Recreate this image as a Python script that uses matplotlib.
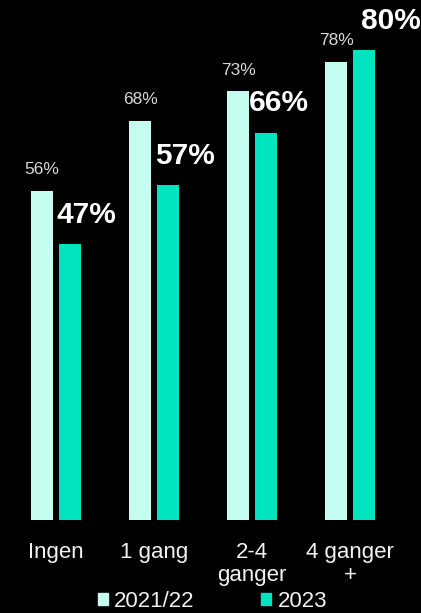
import matplotlib
matplotlib.use("Agg")
import matplotlib.pyplot as plt
from matplotlib.patches import Patch
import numpy as np

plt.rcParams["font.family"] = ["Liberation Sans", "DejaVu Sans"]

categories = ["Ingen", "1 gang", "2-4\nganger", "4 ganger\n+"]
series_names = ["2021/22", "2023"]
values_2021 = [56, 68, 73, 78]
values_2023 = [47, 57, 66, 80]

color_2021 = "#C6FDF1"
color_2023 = "#00E5C0"

fig = plt.figure(figsize=(4.21, 6.13), dpi=100, facecolor="black")
ax = fig.add_axes([7 / 421, 93 / 613, 392 / 421, 520 / 613])
ax.set_facecolor("black")

x = np.arange(len(categories))
w = 22 / 98
off = 14 / 98
ax.bar(x - off, values_2021, width=w, color=color_2021)
ax.bar(x + off, values_2023, width=w, color=color_2023)

ax.set_xlim(-0.5, 3.5)
ax.set_ylim(0, 520 / 5.87)

# small labels for 2021/22, bold labels for 2023
for xi, v in zip(x, values_2021):
    ax.annotate(f"{v}%", (xi - off, v), xytext=(0, 10), textcoords="offset points",
                ha="center", va="bottom", fontsize=12.5, color="#D9D9D9")

shift = [12, 12, 9, 19]
for xi, v, s in zip(x, values_2023, shift):
    ax.annotate(f"{v}%", (xi + off, v), xytext=(s, 11), textcoords="offset points",
                ha="center", va="bottom", fontsize=21.5, fontweight="bold", color="white")

ax.set_xticks(x)
ax.set_xticklabels(categories, fontsize=16, color="#F2F2F2", linespacing=1.1)
ax.tick_params(axis="x", length=0, pad=16)
ax.set_yticks([])
for sp in ax.spines.values():
    sp.set_visible(False)

handles = [Patch(color=color_2021), Patch(color=color_2023)]
fig.legend(handles, series_names, loc="lower center", bbox_to_anchor=(0.505, 0.002),
           ncol=2, frameon=False, fontsize=16, labelcolor="#F2F2F2",
           handlelength=0.45, handleheight=0.45, handletextpad=0.3,
           columnspacing=3.0, borderpad=0.0, borderaxespad=0.0)

fig.savefig("out.png", dpi=100, facecolor="black")
